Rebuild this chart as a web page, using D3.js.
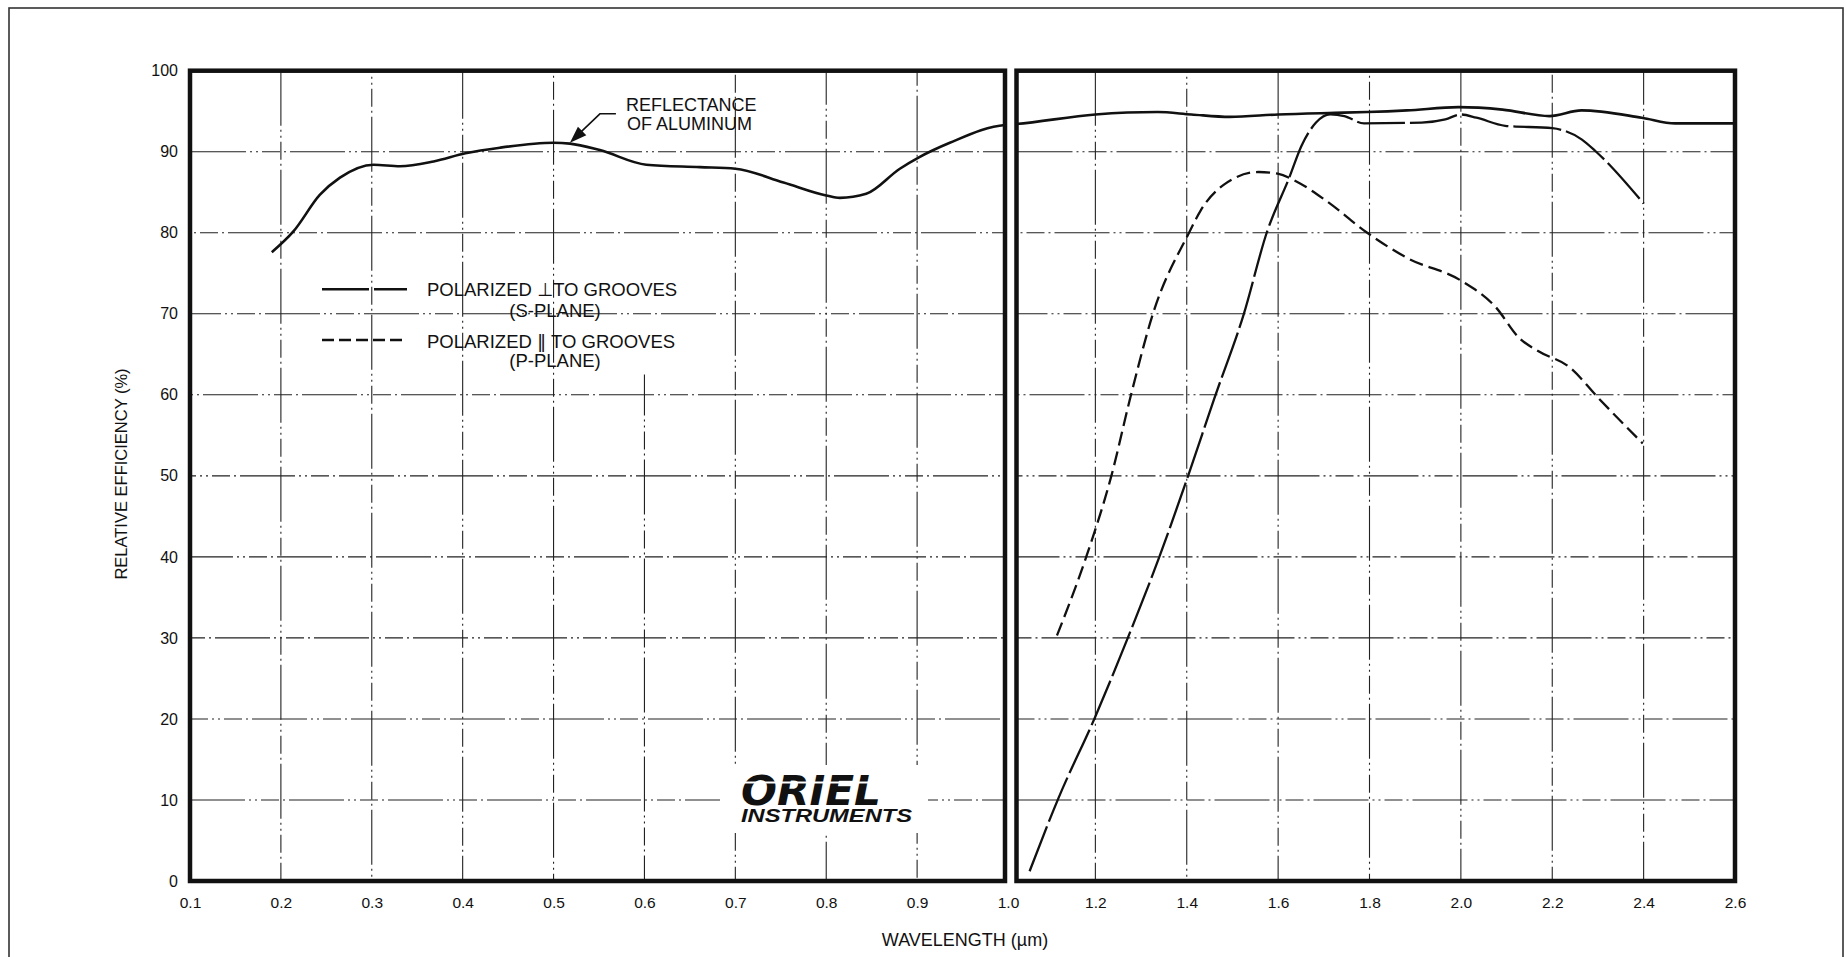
<!DOCTYPE html>
<html>
<head>
<meta charset="utf-8">
<script src="https://cdnjs.cloudflare.com/ajax/libs/d3/7.8.5/d3.min.js"></script>
<style>
body { margin: 0; background: #fff; }
svg { display: block; }
text { font-family: "Liberation Sans", Arial, Helvetica, "DejaVu Sans", sans-serif; fill: #111; }
</style>
</head>
<body>
<svg id="chart" width="1847" height="957"></svg>
<script>
// values
var alWave = [0.190, 0.214, 0.243, 0.265, 0.302, 0.331, 0.368, 0.403, 0.441, 0.500, 0.518, 0.551, 0.602, 0.661, 0.700, 0.753, 0.800, 0.815, 0.844, 0.881, 0.902, 0.936, 0.997,
              1.022, 1.2, 1.336, 1.41, 1.494, 1.6, 1.724, 1.795, 1.882, 1.995, 2.091, 2.194, 2.264, 2.396, 2.469, 2.6];
var alRefl = [77.6, 80.2, 84.7, 86.8, 88.4, 88.2, 88.8, 89.8, 90.5, 91.1, 91.0, 90.2, 88.4, 88.1, 87.9, 86.2, 84.6, 84.3, 84.8, 87.9, 89.3, 91.1, 93.3,
              93.4, 94.6, 94.9, 94.6, 94.3, 94.6, 94.8, 94.9, 95.1, 95.5, 95.2, 94.4, 95.1, 94.2, 93.5, 93.5];

// S-plane (polarized perpendicular)
var sWave = [1.056, 1.119, 1.2, 1.271, 1.34, 1.403, 1.46, 1.525, 1.575, 1.625, 1.651, 1.683, 1.714, 1.745, 1.788, 1.914, 1.966, 2.0, 2.034, 2.097, 2.2, 2.265, 2.296, 2.4];
var sEff  = [1.2, 10.2, 20.3, 30, 40, 50, 59.5, 70, 80, 86.9, 90.7, 93.6, 94.6, 94.4, 93.5, 93.6, 94.0, 94.6, 94.2, 93.2, 92.9, 91.5, 90, 83.6];

// P-plane (polarized parallel)
var pWave = [1.116, 1.18, 1.235, 1.278, 1.326, 1.405, 1.431, 1.483, 1.557, 1.599, 1.641, 1.704, 1.795, 1.882, 2.0, 2.075, 2.128, 2.169, 2.238, 2.301, 2.398];
var pEff  = [30.3, 40, 50, 60, 70, 80, 82.8, 86, 87.5, 87.3, 86.3, 84, 80, 76.9, 74.1, 70.9, 67, 65.4, 63.4, 59.6, 54];

var leftTicks  = [0.1, 0.2, 0.3, 0.4, 0.5, 0.6, 0.7, 0.8, 0.9, 1.0];
var rightTicks = [1.2, 1.4, 1.6, 1.8, 2.0, 2.2, 2.4, 2.6];
var yTicks = [0, 10, 20, 30, 40, 50, 60, 70, 80, 90, 100];

var svg = d3.select('#chart');

var y  = d3.scaleLinear().domain([0, 100]).range([881, 70.7]);
var xL = d3.scaleLinear().domain([0.1, 1.0]).range([190, 1008]);
var xR = d3.scaleLinear().domain([1.0, 2.6]).range([1004, 1735]);

// panel boxes (right one starts a bit past the 1.0 line, like the original)
var boxL = {x0: xL(0.1), x1: xL(1.0) - 3};
var boxR = {x0: xR(1.0) + 12.5, x1: xR(2.6)};

var gridDash = '55,4,2,4,2,4,18,4,2,4';

// outer frame of the figure
svg.append('rect')
    .attr('x', 9).attr('y', 8).attr('width', 1834).attr('height', 970)
    .attr('fill', 'none').attr('stroke', '#333').attr('stroke-width', 1.6);

var defs = svg.append('defs');
[['clipL', boxL], ['clipR', boxR]].forEach(function(c) {
    defs.append('clipPath').attr('id', c[0])
        .append('rect')
        .attr('x', c[1].x0).attr('y', y(100))
        .attr('width', c[1].x1 - c[1].x0).attr('height', y(0) - y(100));
});

// the 0.6 grid line is only drawn below ~62 % in the original
var vTop = function(d) { return Math.abs(d - 0.6) < 1e-6 ? y(62.5) : y(100); };

function drawGrid(g, xs, vTicks, box) {
    g.selectAll('.hg')
        .data(yTicks.filter(function(d) { return d > 0 && d < 100; }))
        .join('line')
        .attr('class', 'hg')
        .attr('x1', box.x0).attr('x2', box.x1)
        .attr('y1', function(d) { return y(d); })
        .attr('y2', function(d) { return y(d); })
        .attr('stroke-dashoffset', function(d, i) { return i * 37; });
    g.selectAll('.vg')
        .data(vTicks)
        .join('line')
        .attr('class', 'vg')
        .attr('x1', function(d) { return xs(d); })
        .attr('x2', function(d) { return xs(d); })
        .attr('y1', vTop).attr('y2', y(0))
        .attr('stroke-dashoffset', function(d, i) { return i * 53; });
    g.selectAll('line')
        .attr('stroke', '#222')
        .attr('stroke-width', 1.1)
        .attr('stroke-dasharray', gridDash);
}

var gridL = svg.append('g').attr('clip-path', 'url(#clipL)');
drawGrid(gridL, xL, [0.2, 0.3, 0.4, 0.5, 0.6, 0.7, 0.8, 0.9], boxL);
var gridR = svg.append('g').attr('clip-path', 'url(#clipR)');
drawGrid(gridR, xR, [1.2, 1.4, 1.6, 1.8, 2.0, 2.2, 2.4], boxR);

// logo sits on a white patch that breaks the grid
var logo = svg.append('g');
logo.append('rect')
    .attr('x', 720).attr('y', 765).attr('width', 208).attr('height', 68)
    .attr('fill', '#fff');
var logoText = logo.append('text').style('font-style', 'italic');
logoText.append('tspan')
    .attr('x', 741).attr('y', 805)
    .attr('textLength', 140).attr('lengthAdjust', 'spacingAndGlyphs')
    .style('font-family', '"DejaVu Sans", "Liberation Sans", sans-serif')
    .style('font-size', '40px').style('font-weight', 900)
    .text('ORIEL');
logoText.append('tspan')
    .attr('x', 741).attr('y', 821.7)
    .attr('textLength', 171).attr('lengthAdjust', 'spacingAndGlyphs')
    .style('font-size', '19px').style('font-weight', 700)
    .text('INSTRUMENTS');
logo.append('rect')
    .attr('x', 742).attr('y', 781.5).attr('width', 142).attr('height', 2)
    .attr('fill', '#fff');

// curves
function series(wave, vals) {
    return wave.map(function(w, i) { return [w, vals[i]]; });
}
var alData = series(alWave, alRefl);
var sData = series(sWave, sEff);
var pData = series(pWave, pEff);

function lineFor(xs) {
    return d3.line()
        .x(function(d) { return xs(d[0]); })
        .y(function(d) { return y(d[1]); })
        .curve(d3.curveMonotoneX);
}

svg.append('path')
    .datum(alData)
    .attr('clip-path', 'url(#clipL)')
    .attr('fill', 'none').attr('stroke', '#111').attr('stroke-width', 2.6)
    .attr('d', lineFor(xL));

var curvesR = svg.append('g').attr('clip-path', 'url(#clipR)');
curvesR.append('path')
    .datum(alData)
    .attr('fill', 'none').attr('stroke', '#111').attr('stroke-width', 2.6)
    .attr('d', lineFor(xR));
curvesR.append('path')
    .datum(sData)
    .attr('fill', 'none').attr('stroke', '#111').attr('stroke-width', 2.3)
    .attr('stroke-dasharray', '48,5')
    .attr('d', lineFor(xR));
curvesR.append('path')
    .datum(pData)
    .attr('fill', 'none').attr('stroke', '#111').attr('stroke-width', 2.3)
    .attr('stroke-dasharray', '14,6')
    .attr('d', lineFor(xR));

// thick panel borders
[boxL, boxR].forEach(function(b) {
    svg.append('rect')
        .attr('x', b.x0).attr('y', y(100))
        .attr('width', b.x1 - b.x0).attr('height', y(0) - y(100))
        .attr('fill', 'none').attr('stroke', '#111').attr('stroke-width', 4.5);
});

// axes
var yAxis = d3.axisLeft(y).tickValues(yTicks).tickSize(0).tickPadding(12);
svg.append('g')
    .attr('transform', 'translate(' + boxL.x0 + ',0)')
    .call(yAxis)
    .call(function(g) { g.select('.domain').remove(); })
    .selectAll('text').style('font-size', '16px').attr('fill', '#111')
    .style('font-family', '"Liberation Sans", Arial, sans-serif');

var fmt = d3.format('.1f');
svg.append('g')
    .attr('transform', 'translate(0,' + y(0) + ')')
    .call(d3.axisBottom(xL).tickValues(leftTicks).tickSize(0).tickPadding(16).tickFormat(fmt))
    .call(function(g) { g.select('.domain').remove(); })
    .selectAll('text').style('font-size', '15.5px').attr('fill', '#111')
    .style('font-family', '"Liberation Sans", Arial, sans-serif');
svg.append('g')
    .attr('transform', 'translate(0,' + y(0) + ')')
    .call(d3.axisBottom(xR).tickValues(rightTicks).tickSize(0).tickPadding(16).tickFormat(fmt))
    .call(function(g) { g.select('.domain').remove(); })
    .selectAll('text').style('font-size', '15.5px').attr('fill', '#111')
    .style('font-family', '"Liberation Sans", Arial, sans-serif');

svg.append('text')
    .attr('x', 965).attr('y', 946)
    .attr('text-anchor', 'middle')
    .style('font-size', '18px')
    .text('WAVELENGTH (\u00b5m)');

svg.append('text')
    .attr('transform', 'translate(127,474) rotate(-90)')
    .attr('text-anchor', 'middle')
    .style('font-size', '16.5px')
    .text('RELATIVE EFFICIENCY (%)');

// legend
var leg = svg.append('g');
leg.append('line')
    .attr('x1', 322).attr('x2', 407).attr('y1', 289.3).attr('y2', 289.3)
    .attr('stroke', '#111').attr('stroke-width', 2.6).attr('stroke-dasharray', '47,5,40');
leg.append('line')
    .attr('x1', 322).attr('x2', 407).attr('y1', 340).attr('y2', 340)
    .attr('stroke', '#111').attr('stroke-width', 2.6).attr('stroke-dasharray', '12,5');

var t1 = leg.append('text').attr('x', 427).attr('y', 295.7).style('font-size', '18.5px');
t1.append('tspan').text('POLARIZED ');
t1.append('tspan').style('font-family', '"DejaVu Sans", sans-serif').text('\u22a5');
t1.append('tspan').text('TO GROOVES');
leg.append('text').attr('x', 555).attr('y', 316.7).attr('text-anchor', 'middle')
    .style('font-size', '18.5px').text('(S-PLANE)');
var t2 = leg.append('text').attr('x', 427).attr('y', 348.3).style('font-size', '18.5px');
t2.append('tspan').text('POLARIZED ');
t2.append('tspan').style('font-family', '"DejaVu Sans", sans-serif').text('\u2016');
t2.append('tspan').text(' TO GROOVES');
leg.append('text').attr('x', 555).attr('y', 366.7).attr('text-anchor', 'middle')
    .style('font-size', '18.5px').text('(P-PLANE)');

// "reflectance of aluminum" callout
var tipX = xL(0.518), tipY = y(91.1);
var elbow = [tipX + 30, tipY - 29];
var ann = svg.append('g');
ann.append('polyline')
    .attr('points', [[elbow[0] + 16, elbow[1]], elbow, [tipX + 9, tipY - 9]].join(' '))
    .attr('fill', 'none').attr('stroke', '#111').attr('stroke-width', 1.6);
var ang = Math.atan2(tipY - elbow[1], tipX - elbow[0]);
var hl = 17, hw = 6;
var bx = tipX - hl * Math.cos(ang), by = tipY - hl * Math.sin(ang);
ann.append('path')
    .attr('d', 'M' + tipX + ',' + tipY +
        'L' + (bx + hw * Math.sin(ang)) + ',' + (by - hw * Math.cos(ang)) +
        'L' + (bx - hw * Math.sin(ang)) + ',' + (by + hw * Math.cos(ang)) + 'Z')
    .attr('fill', '#111');
ann.append('text').attr('x', tipX + 56).attr('y', tipY - 31.6)
    .style('font-size', '18px').text('REFLECTANCE');
ann.append('text').attr('x', tipX + 57).attr('y', tipY - 12.6)
    .style('font-size', '18px').text('OF ALUMINUM');
</script>
</body>
</html>
